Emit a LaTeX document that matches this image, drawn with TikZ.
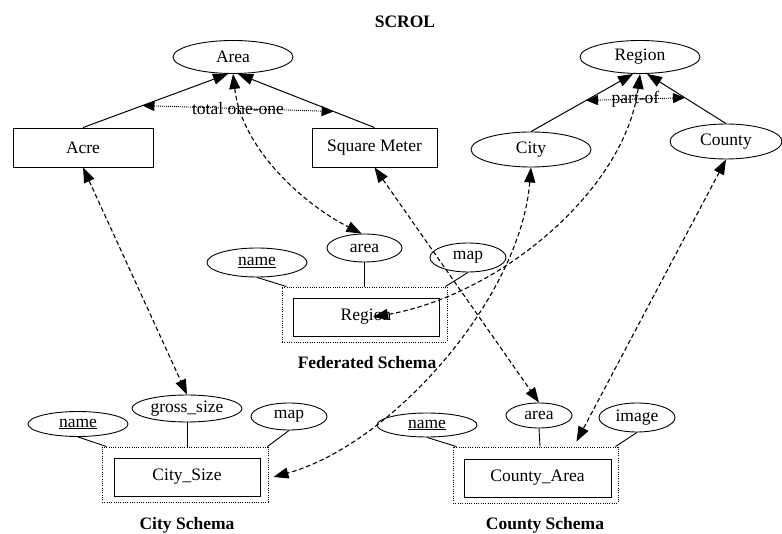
\documentclass[tikz,border=0pt]{standalone}
\usepackage{fontspec}
\setmainfont{Liberation Serif}
\usetikzlibrary{shapes.geometric,arrows.meta}
\begin{document}
\begin{tikzpicture}[x=1pt,y=-1pt,
  font=\fontsize{17.5}{21}\selectfont,
  ent/.style={draw,line width=0.9pt,minimum height=39pt,inner sep=0},
  attr/.style={draw,ellipse,line width=0.9pt,inner sep=0},
  schemabox/.style={draw,line width=0.9pt,dash pattern=on 1pt off 1.3pt,inner sep=0},
  attrline/.style={line width=0.9pt},
  isa/.style={line width=1pt,-{Triangle[length=15pt,width=11pt]}},
  link/.style={line width=1.1pt,dash pattern=on 4.5pt off 2.8pt,
    {Triangle[length=15pt,width=11pt]}-{Triangle[length=15pt,width=11pt]}},
  rel/.style={line width=0.9pt,dash pattern=on 1pt off 1pt,
    {Triangle[length=12pt,width=10pt]}-{Triangle[length=12pt,width=10pt]}},
  title/.style={font=\fontsize{17.5}{21}\selectfont\bfseries}]
\useasboundingbox (0,0) rectangle (782,534);

% ---- SCROL ontology
\node[title] (scrol) at (405,22) {SCROL};
\node[attr,minimum width=120pt,minimum height=33pt] (area) at (233,57) {Area};
\node[attr,minimum width=120pt,minimum height=33pt] (region) at (640,57) {Region};
\node[ent,minimum width=140pt] (acre) at (83,147.5) {Acre};
\node[ent,minimum width=125pt] (sqm) at (374.5,147.5) {Square Meter};
\node[attr,minimum width=120pt,minimum height=35pt] (city) at (531,149.5) {City};
\node[attr,minimum width=112pt,minimum height=35pt] (county) at (726,141.5) {County};

\draw[isa] (acre.north) -- coordinate[pos=0.41] (t1) ([xshift=-5pt]area.south);
\draw[isa] (sqm.north) -- coordinate[pos=0.30] (t2) ([xshift=5pt]area.south);
\draw[rel] (t1) -- node {total one-one} (t2);

\draw[isa] (city.north) -- coordinate[pos=0.54] (p1) ([xshift=-7pt]region.south);
\draw[isa] (county.north) -- coordinate[pos=0.52] (p2) ([xshift=7pt]region.south);
\draw[rel] (p1) -- node {part-of} (p2);

% ---- Federated schema
\node[schemabox,minimum width=165pt,minimum height=55pt] (fout) at (364.5,314.5) {};
\node[ent,minimum width=146pt,minimum height=38pt] (freg) at (366,317) {Region};
\node[attr,minimum width=100pt,minimum height=29pt] (fname) at (257,262.5) {\underline{name}};
\node[attr,minimum width=75pt,minimum height=28pt] (farea) at (364.5,248) {area};
\node[attr,minimum width=76pt,minimum height=29pt] (fmap) at (468,257.5) {map};
\node[title] (fedlbl) at (367,363) {Federated Schema};
\draw[attrline] (fname.south) -- ([xshift=5pt]fout.north west);
\draw[attrline] (farea.south) -- (farea.south |- fout.north);
\draw[attrline] (fmap.south) -- ([xshift=-2pt]fout.north east);

% ---- City schema
\node[schemabox,minimum width=166pt,minimum height=55pt] (cout) at (185,474.5) {};
\node[ent,minimum width=146pt,minimum height=38pt] (csize) at (187,477) {City\_Size};
\node[attr,minimum width=100pt,minimum height=25pt] (cname) at (78,424) {\underline{name}};
\node[attr,minimum width=110pt,minimum height=27pt] (cgross) at (187,408.5) {gross\_size};
\node[attr,minimum width=76pt,minimum height=27pt] (cmap) at (289,416.5) {map};
\node[title] (citylbl) at (187,525) {City Schema};
\draw[attrline] (cname.south) -- ([xshift=5pt]cout.north west);
\draw[attrline] (cgross.south) -- (cgross.south |- cout.north);
\draw[attrline] (cmap.south) -- ([xshift=-1pt]cout.north east);

% ---- County schema
\node[schemabox,minimum width=165pt,minimum height=56pt] (kout) at (535.5,475) {};
\node[ent,minimum width=147pt,minimum height=38pt] (karea) at (537.5,478) {County\_Area};
\node[attr,minimum width=100pt,minimum height=24pt] (kname) at (427,425) {\underline{name}};
\node[attr,minimum width=66pt,minimum height=25pt] (kattr) at (539,415.5) {area};
\node[attr,minimum width=76pt,minimum height=29pt] (kimage) at (637,417.5) {image};
\node[title] (countylbl) at (545,525) {County Schema};
\draw[attrline] (kname.south) -- ([xshift=4pt]kout.north west);
\draw[attrline] (kattr.south) -- ([xshift=1pt]kattr.south |- kout.north);
\draw[attrline] (kimage.south) -- ([xshift=-3pt]kout.north east);

% ---- correspondences between ontology and schemas
\draw[link] (acre.south) -- (cgross.north);
\draw[link] (area.south) .. controls (242,150) and (305,205) .. ([xshift=-3pt]farea.north);
\draw[link] (sqm.south) -- (kattr.north);
\draw[link] (city.south) .. controls (520,300) and (390,445) .. ([xshift=5pt,yshift=-2.5pt]cout.east);
\draw[link] (region.south) .. controls (625,190) and (500,295) .. ([xshift=7pt]freg.center);
\draw[link] (county.south) -- ([xshift=41pt,yshift=5pt]kout.north);
\end{tikzpicture}
\end{document}
